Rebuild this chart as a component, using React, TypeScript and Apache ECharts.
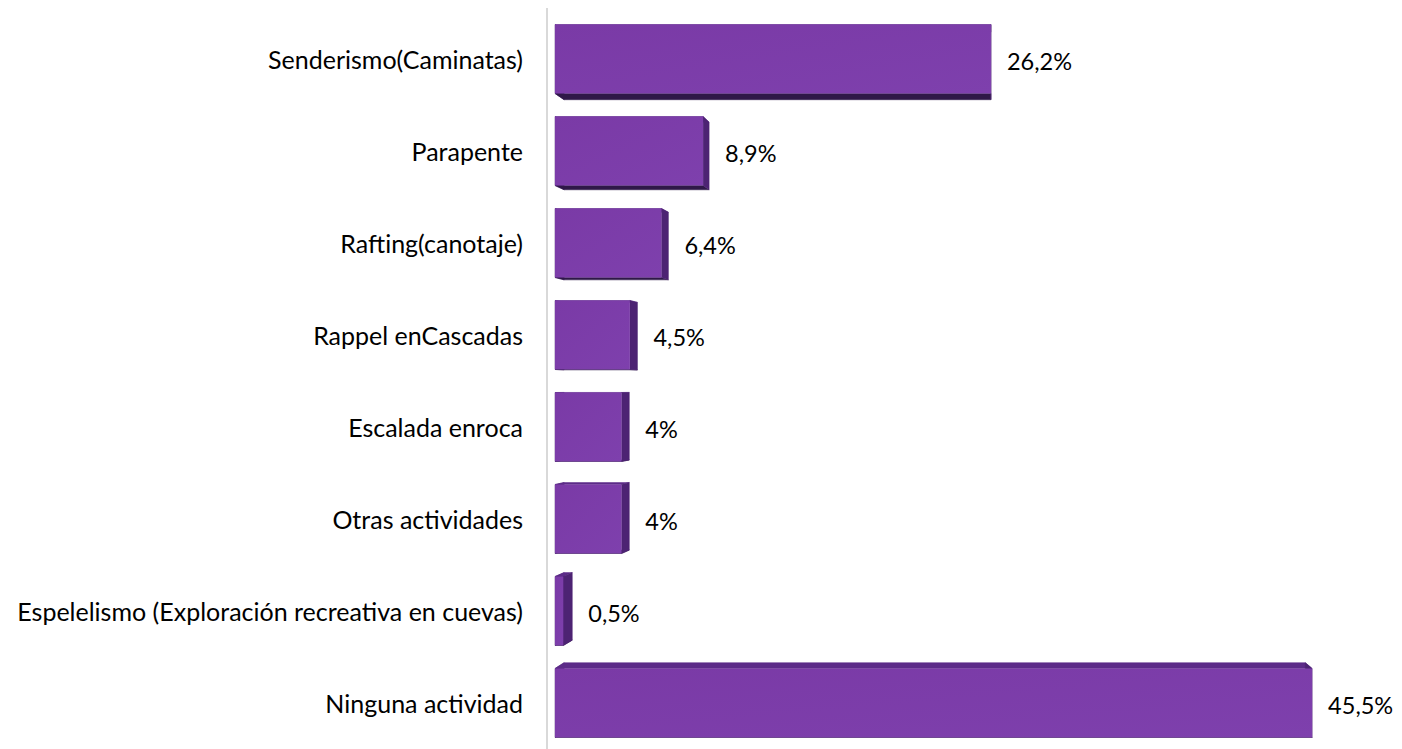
import React, { useEffect, useRef } from "react";
import * as echarts from "echarts";

const categories = [
  "Senderismo(Caminatas)",
  "Parapente",
  "Rafting(canotaje)",
  "Rappel enCascadas",
  "Escalada enroca",
  "Otras actividades",
  "Espelelismo (Exploración recreativa en cuevas)",
  "Ninguna actividad",
];
const values = [26.2, 8.9, 6.4, 4.5, 4, 4, 0.5, 45.5];

const FONT = "Lato, 'Noto Sans', sans-serif";

export default function App() {
  const ref = useRef<HTMLDivElement>(null);
  useEffect(() => {
    if (!ref.current) return;
    const chart = echarts.init(ref.current, null, { renderer: "svg" });
    const VP = [990, 390];
    const K = 0.021;
    chart.setOption({
      animation: false,
      grid: { left: 555, top: 13, height: 736, width: 832 },
      xAxis: { type: "value", min: 0, max: 50, show: false },
      yAxis: {
        type: "category",
        data: categories,
        inverse: true,
        axisLine: { show: false },
        axisTick: { show: false },
        axisLabel: {
          margin: 32,
          fontSize: 25,
          color: "#000",
          fontFamily: FONT,
          padding: [0, 0, 4, 0],
        },
      },
      graphic: [
        {
          type: "line",
          shape: { x1: 547, y1: 8, x2: 547, y2: 749 },
          style: { stroke: "#d9d9d9", lineWidth: 2 },
          z: 0,
        },
      ],
      series: [
        {
          type: "custom",
          data: values.map((v, i) => [v, i]),
          encode: { x: 0, y: 1 },
          renderItem: (params: any, api: any) => {
            const v = api.value(0);
            const idx = api.value(1);
            const p0 = api.coord([0, idx]);
            const p1 = api.coord([v, idx]);
            const h = api.size([0, 1])[1] * 0.75;
            const x0 = p0[0];
            const x1 = p1[0];
            const y0 = p0[1] - h / 2;
            const y1 = p0[1] + h / 2;
            const back = (x: number, y: number) => [x + (VP[0] - x) * K, y + (VP[1] - y) * K];
            const A = [x0, y0], B = [x1, y0], C = [x1, y1], D = [x0, y1];
            const a = back(x0, y0), b = back(x1, y0), c = back(x1, y1), d = back(x0, y1);
            const children: any[] = [];
            const face = (pts: number[][], fill: string) => ({
              type: "polygon",
              shape: { points: pts },
              style: { fill, stroke: fill, lineWidth: 0.5 },
            });
            children.push(face([A, D, d, a], "#4a2270"));
            children.push(face([A, B, b, a], "#5c2b88"));
            children.push(face([D, C, c, d], "#2f1848"));
            children.push(face([B, C, c, b], "#4d2373"));
            children.push({
              type: "rect",
              shape: { x: x0, y: y0, width: x1 - x0, height: y1 - y0 },
              style: {
                fill: new echarts.graphic.LinearGradient(0, 0, 1, 1, [
                  { offset: 0, color: "#7a3aa6" },
                  { offset: 1, color: "#7e40ad" },
                ]),
              },
            });
            const rightEdge = Math.max(x1, b[0], c[0]);
            children.push({
              type: "text",
              x: rightEdge + 16,
              y: p0[1] + 2,
              style: {
                text: String(v).replace(".", ",") + "%",
                fontSize: 23.5,
                fontFamily: FONT,
                fill: "#000",
                verticalAlign: "middle",
                align: "left",
              },
            });
            return { type: "group", children };
          },
        },
      ],
    });
    return () => chart.dispose();
  }, []);
  return <div ref={ref} style={{ width: 1402, height: 749, position: "absolute", left: 0, top: 0 }} />;
}
